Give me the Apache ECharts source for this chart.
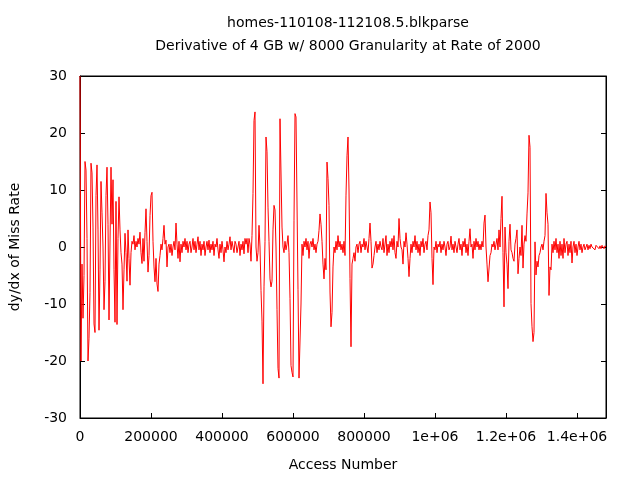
<!DOCTYPE html>
<html>
<head>
<meta charset="utf-8">
<script src="https://cdn.jsdelivr.net/npm/echarts@6/dist/echarts.min.js"></script>
<style>
html,body{margin:0;padding:0;background:#fff;}
#chart{width:640px;height:480px;}
</style>
</head>
<body>
<div id="chart"></div>
<script>
const titleLines = ['homes-110108-112108.5.blkparse', 'Derivative of 4 GB w/ 8000 Granularity at Rate of 2000'];
const xAxisTitle = 'Access Number';
const yAxisTitle = 'dy/dx of Miss Rate';
const xTickLabels = ['0', '200000', '400000', '600000', '800000', '1e+06', '1.2e+06', '1.4e+06'];
const xTickStep = 200000;
const yTickLabels = ['-30', '-20', '-10', '0', '10', '20', '30'];
const accessStep = 2817; // spacing of samples (access number)
const missRateDerivative = [
  30, -20, -3, -12.5, -5, 15, 13.5, 1.5, -20, -16,
  -8, 14.7, 13, 3.5, -13.5, -15, 9, 14.4, 3, -14.6,
  -4, 11.5, 6, 0, -11, -6, 9, 14, 4, -12.8,
  -12.8, 14, 4, 11.8, -4, -13.2, 8, -13.6, 1.5, 8.8,
  3, -1, -3, -11, -4, 2.4, -1, -6, 3, -2,
  -6.7, -1, 1, 0.5, 2, -0.5, 1, 0, 1.5, 0.5,
  2.6, -1, -2.9, 1.5, -2.5, 2.5, 6.7, 1, -4.4, -1.5,
  5.5, 9, 9.6, 1, -3.5, -6.1, -2, -6.5, -7.8, -3,
  -1.5, 0.5, -0.5, 1.5, 3.8, 0.5, 1.2, -3.5, 0, 0.5,
  -1, 0.5, -1.5, 0, 1, -0.5, 4.2, 0.5, -2, 1,
  -2.6, 0.5, -1, 1, 0, 1.5, -0.5, 1, -1, 0.5,
  1, -1, 0, 1.5, -0.5, 1, -1, 0.5, 1.8, -0.5,
  1, -1.5, 0.5, -0.5, 1, -1.5, 0, 1, -0.5, 1.2,
  -1, 0.5, -0.5, 1, -1.5, 0.5, 0, 1.5, -0.5, -2,
  0.5, -1, 1, -0.5, -2.6, 0, -1, 1, -0.5, 0.5,
  1.8, -0.5, 1, 0, -1, 1, 0.5, -1, 0, 1,
  -1.5, 0.5, -0.5, 1, -1.2, 1.5, 0.5, 1.5, -1, 1.5,
  0.5, -2.5, 2, 9.4, 22.2, 23.7, 0, -2.5, -1, 3.8,
  0, -7.6, -13, -24, -7, 1, 19.3, 16.7, 7, 1,
  -5.6, -7, -6, 3, 7.3, 6.5, 0, -11, -21.3, -23,
  22.5, 22.8, 3.5, 0, -1, 1, -0.5, 0.5, 2, -1,
  -9, -20.8, -22, -22.8, 4.7, 23.4, 22.8, 22.5, -7.5, -23,
  -22.8, -10, 0.5, -1.5, 1, 0, 1.5, -0.5, 1, -2,
  0.5, 1, 0, 1.5, -0.5, 0.5, -1, 0.5, 1, 2.9,
  5.8, 4, 1, -3, -5.6, -2, -4, 14.9, 12, 7.3,
  -7.9, -14, -11.5, -3.5, 0, -1, 1, -0.5, 2, 0,
  1, -0.5, 0.5, -1, 1, -1.5, 9.1, 16, 19.3, 10,
  -5.5, -17.5, -3, -2, -1, -2.5, 0, 0.5, -1, 0.5,
  1, -1, 0.5, 0, 1.5, -0.5, 1, 0, -1, 1.5,
  4.2, 1, -3.7, -3, -1.5, 0, 1, -1, 0.5, -0.5,
  1, 0, -0.5, 1.5, -1, 0.5, 2, -1.5, 0.5, -1,
  1, 0, 1.5, -0.5, 2, -1, -2, 1, 0, 5,
  1.5, 0, -0.5, -3, 1, 0, 2.5, 0.5, -2, -5.2,
  -2, 0.5, -1, 1, 0, 2, -0.5, 1, -1, 0.5,
  -1.5, 1, 0, 1.5, -1, 0.5, 1, -0.5, 2, 3,
  7.9, 6, -2, -6.6, 0, -0.5, 1, -1, 0.5, 0,
  1, -1, 0.5, -0.5, 1, 0, -1.5, 0.5, 1, -0.5,
  0, 1.9, -0.5, 0.5, -1, 1, 0, -1, 0.5, 1.5,
  -0.5, 0.5, -1.5, 1, 0, 1.5, -1, 0.5, -1.5, 1,
  3.2, 0, 0.5, -2, 1, -0.5, 1.5, 0, 1, -0.5,
  0.5, -0.5, 1, 0, 4.2, 5.6, 0, -3, -6.1, -6,
  -1.5, -1, 0.5, 0, 1, -0.5, 0.5, 1.5, -0.5, 3,
  0, 5, 8.9, -1, -10.5, 3.5, -1, -3, -7.3, 1,
  4, -0.5, -1, -2, -2.5, 0.5, 1.5, 3, -4.7, -2,
  0, -1.5, 3.8, -3.7, 0.5, 2, 1, 5.8, 9.5, 19.6,
  17.5, -9.9, -14, -16.6, -15, 0.9, -4.9, -2.5, -3.5, -1.5,
  -1, 0, 0.5, -0.5, 1, 2, 9.4, 6, 4, -8.5,
  -3.5, -4, 0.5, -1, 1, -0.5, 1.5, -1, 0.5, -2,
  1, -1.5, 0.5, -2, 1.5, -1, 0.5, 1, -1.5, 0.5,
  -1, 1, -2.8, 0, 1, -1, 0.5, -1.5, 0, 1,
  -0.5, 0.5, -1, 0, 0.5, -0.5, 0, 0.5, -0.5, 0.3,
  -0.3, 0.5, 0, -0.3, 0.3, -0.5, 0.3, 0, 0.5, -0.3,
  0.2, -0.3, 0.3, 0, -0.3, 0.2, 0
];

const seriesData = missRateDerivative.map((v, i) => [i * accessStep, v]);
const FONT = 'DejaVu Sans';

function xLabel(v) {
  if (v % xTickStep !== 0) return '';
  const idx = Math.round(v / xTickStep);
  return xTickLabels[idx] !== undefined ? xTickLabels[idx] : '';
}
function yLabel(v) {
  const idx = Math.round((v + 30) / 10);
  return yTickLabels[idx] !== undefined ? yTickLabels[idx] : '';
}

const chart = echarts.init(document.getElementById('chart'), null, {renderer: 'canvas'});
const tickStyle = {show: true, inside: true, length: 5, lineStyle: {color: '#000', width: 1}};
const lineStyleAxis = {show: true, onZero: false, lineStyle: {color: '#000', width: 1}};
chart.setOption({
  animation: false,
  backgroundColor: '#fff',
  title: {
    text: titleLines.join('\n'),
    left: 343,
    top: 7,
    textAlign: 'center',
    textStyle: {fontFamily: FONT, fontSize: 14, fontWeight: 'normal', color: '#000', lineHeight: 23}
  },
  grid: {left: 80, right: 34, top: 76, bottom: 62, show: true, borderColor: '#000', borderWidth: 1, containLabel: false},
  xAxis: [{
    type: 'value', min: 0, max: 'dataMax', interval: xTickStep,
    name: xAxisTitle, nameLocation: 'middle', nameGap: 40,
    nameTextStyle: {fontFamily: FONT, fontSize: 14, color: '#000'},
    axisLine: lineStyleAxis,
    axisTick: tickStyle,
    splitLine: {show: false},
    axisLabel: {fontFamily: FONT, fontSize: 14, color: '#000', margin: 12, formatter: xLabel, showMaxLabel: false}
  }, {
    type: 'value', position: 'top', min: 0, max: 'dataMax', interval: xTickStep,
    axisLine: lineStyleAxis,
    axisTick: tickStyle, axisLabel: {show: false}, splitLine: {show: false}
  }],
  yAxis: [{
    type: 'value', min: -30, max: 30, interval: 10,
    name: yAxisTitle, nameLocation: 'middle', nameGap: 58, nameRotate: 90,
    nameTextStyle: {fontFamily: FONT, fontSize: 14, color: '#000'},
    axisLine: lineStyleAxis,
    axisTick: tickStyle,
    splitLine: {show: false},
    axisLabel: {fontFamily: FONT, fontSize: 14, color: '#000', margin: 13, formatter: yLabel}
  }, {
    type: 'value', position: 'right', min: -30, max: 30, interval: 10,
    axisLine: lineStyleAxis,
    axisTick: tickStyle, axisLabel: {show: false}, splitLine: {show: false}
  }],
  series: [{
    type: 'line',
    xAxisIndex: 0, yAxisIndex: 0,
    data: seriesData,
    showSymbol: false,
    symbol: 'none',
    clip: true,
    lineStyle: {color: '#ff0000', width: 1},
    emphasis: {disabled: true}
  }]
});
</script>
</body>
</html>
